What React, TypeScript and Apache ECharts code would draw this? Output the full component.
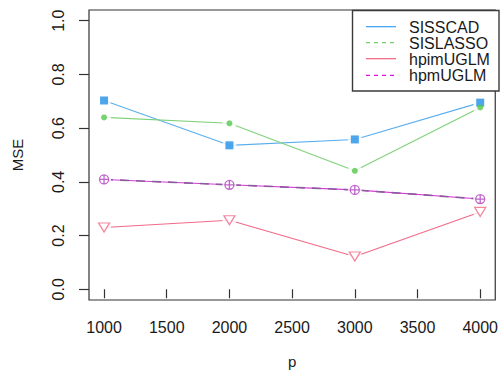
import React, { useEffect, useRef } from "react";
import * as echarts from "echarts";

const P = [1000, 2000, 3000, 4000];
const SERIES_NAMES = ["SISSCAD", "SISLASSO", "hpimUGLM", "hpmUGLM"];
const SISSCAD = [0.703, 0.536, 0.558, 0.695];
const SISLASSO = [0.64, 0.618, 0.441, 0.677];
const HPIMUGLM = [0.23, 0.257, 0.122, 0.288];
const HPMUGLM = [0.409, 0.389, 0.37, 0.336];
const X_TICKS = [1000, 1500, 2000, 2500, 3000, 3500, 4000];
const Y_TICKS = [0, 0.2, 0.4, 0.6, 0.8, 1.0];

const FONT = "'Liberation Sans', Arial, sans-serif";

const pairs = (ys: number[]) => P.map((x, i) => [x, ys[i]]);

export default function App() {
  const ref = useRef<HTMLDivElement>(null);
  useEffect(() => {
    if (!ref.current) return;
    const chart = echarts.init(ref.current, undefined, { renderer: "svg" });

    const defs = [
      {
        name: SERIES_NAMES[0], data: SISSCAD, line: "#5aaeee",
        symbol: "rect", size: 8, fill: "#2090e6", stroke: "#2090e6", bw: 0, rot: 0,
      },
      {
        name: SERIES_NAMES[1], data: SISLASSO, line: "#7fd27a",
        symbol: "circle", size: 6, fill: "#55c84a", stroke: "#55c84a", bw: 0, rot: 0,
      },
      {
        name: SERIES_NAMES[2], data: HPIMUGLM, line: "#f06a88",
        symbol: "triangle", size: [11, 9], fill: "#ffffff", stroke: "#f06a88", bw: 1.3, rot: 180,
      },
      {
        name: SERIES_NAMES[3], data: HPMUGLM, line: "#d838d8",
        symbol: "path://M10,5A5,5,0,1,1,0,5A5,5,0,1,1,10,5ZM5,0L5,10M0,5L10,5",
        size: 9, fill: "#ffffff", stroke: "#b03cc0", bw: 1.3, rot: 0,
      },
    ];

    const series: any[] = [];
    defs.forEach((d) => {
      series.push({
        type: "line",
        name: d.name,
        data: pairs(d.data),
        symbol: "none",
        lineStyle: { color: d.line, width: 1.1 },
        z: 1,
        silent: true,
      });
    });
    series.push({
      type: "line",
      name: "hpmUGLM-dash",
      data: pairs(HPMUGLM),
      symbol: "none",
      lineStyle: { color: "#8c5a9c", width: 1.6, type: [9, 7] },
      z: 1,
      silent: true,
    });
    defs.forEach((d) => {
      series.push({
        type: "scatter",
        name: d.name + "-halo",
        data: pairs(d.data),
        symbol: "circle",
        symbolSize: 14,
        itemStyle: { color: "#ffffff" },
        z: 2,
        silent: true,
      });
    });
    defs.forEach((d) => {
      series.push({
        type: "scatter",
        name: d.name + "-mark",
        data: pairs(d.data),
        symbol: d.symbol,
        symbolSize: d.size,
        symbolRotate: d.rot,
        itemStyle: { color: d.fill, borderColor: d.stroke, borderWidth: d.bw },
        z: 3,
        silent: true,
      });
    });

    const legendColors = ["#3aa0f0", "#6fd06a", "#f06080", "#e010e0"];
    const legendDash: any[] = [null, [4, 4], null, [4, 4]];
    const rowY = [26.7, 42.7, 58.7, 75.3];
    const legendChildren: any[] = [
      {
        type: "rect",
        shape: { x: 352.5, y: 10.5, width: 146.5, height: 80.5 },
        style: { fill: "#ffffff", stroke: "#3a3a3a", lineWidth: 1.4 },
        z: 10,
      },
    ];
    SERIES_NAMES.forEach((n, i) => {
      legendChildren.push({
        type: "line",
        shape: { x1: 366, y1: rowY[i], x2: 396, y2: rowY[i] },
        style: { stroke: legendColors[i], lineWidth: 1.2, lineDash: legendDash[i] },
        z: 11,
      });
      legendChildren.push({
        type: "text",
        x: 409,
        y: rowY[i] + 0.5,
        style: {
          text: n,
          fill: "#1a1a1a",
          font: `16px ${FONT}`,
          verticalAlign: "middle",
          align: "left",
        },
        z: 11,
      });
    });

    chart.setOption({
      animation: false,
      grid: {
        left: 89,
        top: 10,
        width: 411,
        height: 292,
        show: true,
        borderColor: "#333",
        borderWidth: 1.2,
        backgroundColor: "transparent",
      },
      xAxis: {
        type: "value",
        min: 880,
        max: 4120,
        name: "p",
        nameLocation: "middle",
        nameGap: 54,
        nameTextStyle: { fontFamily: FONT, fontSize: 15, color: "#1a1a1a" },
        axisLine: { show: false },
        splitLine: { show: false },
        axisTick: { show: true, length: 9, lineStyle: { color: "#333", width: 1.2 }, customValues: X_TICKS },
        axisLabel: {
          customValues: X_TICKS,
          margin: 19,
          fontFamily: FONT,
          fontSize: 16,
          color: "#1a1a1a",
          formatter: (v: number) => String(v),
        },
      },
      yAxis: {
        type: "value",
        min: -0.04,
        max: 1.04,
        name: "MSE",
        nameLocation: "middle",
        nameRotate: 90,
        nameGap: 64,
        nameTextStyle: { fontFamily: FONT, fontSize: 15, color: "#1a1a1a" },
        axisLine: { show: false },
        splitLine: { show: false },
        axisTick: { show: true, length: 10, lineStyle: { color: "#333", width: 1.2 }, customValues: Y_TICKS },
        axisLabel: {
          customValues: Y_TICKS,
          rotate: 90,
          margin: 23,
          fontFamily: FONT,
          fontSize: 16,
          color: "#1a1a1a",
          formatter: (v: number) => v.toFixed(1),
        },
      },
      series,
      graphic: [{ type: "group", children: legendChildren }],
    });
    return () => chart.dispose();
  }, []);
  return (
    <div
      ref={ref}
      style={{ position: "fixed", left: 0, top: 0, width: 501, height: 374, background: "#fff" }}
    />
  );
}
